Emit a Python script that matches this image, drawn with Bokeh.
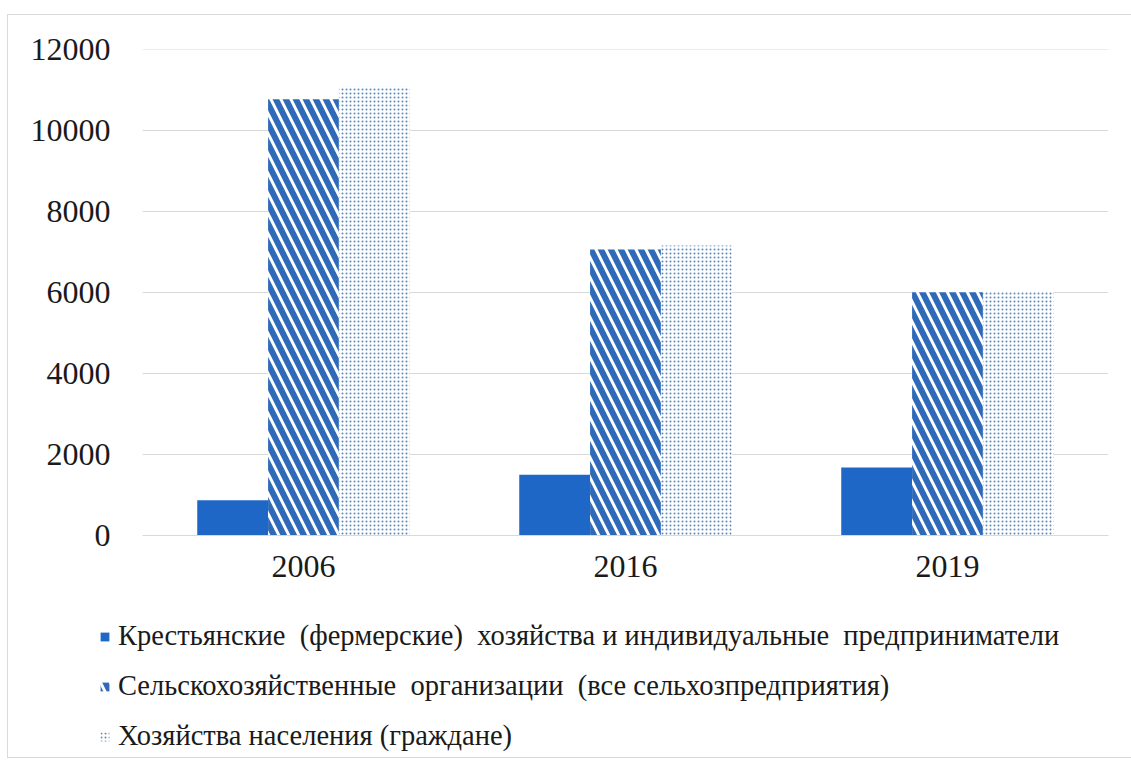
from bokeh.plotting import figure
from bokeh.layouts import column
from bokeh.models import (FactorRange, Range1d, Legend, LegendItem,
                          FixedTicker, ColumnDataSource)
from bokeh.transform import dodge
from bokeh.embed import file_html
from bokeh.resources import INLINE

years = ["2006", "2016", "2019"]
farms = [870, 1500, 1680]
orgs = [10780, 7070, 6010]
households = [11090, 7170, 6020]
series_names = [
    "Крестьянские  (фермерские)  хозяйства и индивидуальные  предприниматели",
    "Сельскохозяйственные  организации  (все сельхозпредприятия)",
    "Хозяйства населения (граждане)",
]
y_ticks = [0, 2000, 4000, 6000, 8000, 10000, 12000]

FONT = "Liberation Serif"
GRID = "#d9d9d9"
BLUE = "#1f67c6"
STRIPE = "#2f6ab8"
DOT = "#5f86b8"

styles = [
    dict(fill_color=BLUE, line_color=None),
    dict(fill_color="white", line_color=None, hatch_pattern="left_diagonal_line",
         hatch_color=STRIPE, hatch_weight=6, hatch_scale=20),
    dict(fill_color="white", line_color=None, hatch_pattern="dot",
         hatch_color=DOT, hatch_weight=2, hatch_scale=4),
]

src = ColumnDataSource(dict(year=years, farms=farms, orgs=orgs, households=households))

p = figure(width=1123, height=575,
           x_range=FactorRange(*years, range_padding=0),
           y_range=Range1d(0, 12012),
           output_backend="svg", toolbar_location=None,
           min_border_left=134, min_border_right=23,
           min_border_top=34, min_border_bottom=55)
p.background_fill_color = "white"
p.border_fill_color = "white"
p.outline_line_color = None

w = 0.22
r1 = p.vbar(x=dodge("year", -w, range=p.x_range), top="farms", width=w, source=src, **styles[0])
r2 = p.vbar(x=dodge("year", 0, range=p.x_range), top="orgs", width=w, source=src, **styles[1])
r3 = p.vbar(x=dodge("year", w, range=p.x_range), top="households", width=w, source=src, **styles[2])

p.xgrid.visible = False
p.ygrid.grid_line_color = GRID
p.ygrid.grid_line_width = 1

p.yaxis.ticker = FixedTicker(ticks=y_ticks)
p.yaxis.axis_line_color = None
p.yaxis.major_tick_line_color = None
p.yaxis.minor_tick_line_color = None
p.yaxis.major_tick_out = 0
p.yaxis.major_label_standoff = 32
p.yaxis.major_label_text_font = FONT
p.yaxis.major_label_text_font_size = "32px"
p.yaxis.major_label_text_color = "#1a1a1a"

p.xaxis.axis_line_color = GRID
p.xaxis.major_tick_line_color = None
p.xaxis.minor_tick_line_color = None
p.xaxis.major_tick_out = 0
p.xaxis.major_label_standoff = 20
p.xaxis.major_label_text_font = FONT
p.xaxis.major_label_text_font_size = "32px"
p.xaxis.major_label_text_color = "#1a1a1a"

# legend panel below the chart (legend swatches only; kept outside its view range)
pl = figure(width=1123, height=167, x_range=Range1d(0, 1), y_range=Range1d(0, 1),
            x_axis_location=None, y_axis_location=None,
            output_backend="svg", toolbar_location=None,
            min_border_left=0, min_border_right=0, min_border_top=0, min_border_bottom=0)
pl.grid.visible = False
pl.outline_line_color = None
pl.background_fill_color = "white"
pl.border_fill_color = "white"
legend_renderers = [pl.vbar(x=[-5], top=[-5], bottom=[-6], width=0.1, **st) for st in styles]

legend = Legend(items=[LegendItem(label=series_names[i], renderers=[legend_renderers[i]])
                       for i in range(3)],
                location=(91, 5), orientation="vertical")
legend.padding = 0
legend.margin = 0
legend.border_line_color = None
legend.background_fill_alpha = 0
legend.glyph_width = 11
legend.glyph_height = 11
legend.label_standoff = 8
legend.label_height = 30
legend.spacing = 18
legend.label_text_font = FONT
legend.label_text_font_size = "28.5px"
legend.label_text_color = "#1a1a1a"
pl.add_layout(legend, "center")

p.frame_align = False
pl.frame_align = False

layout = column(p, pl, spacing=0)
layout.styles = {"margin-left": "7px", "margin-top": "14px",
                 "border-left": "1px solid #d9d9d9",
                 "border-top": "1px solid #d9d9d9",
                 "border-bottom": "1px solid #d9d9d9"}

open("out.html", "w").write(file_html(layout, INLINE))
